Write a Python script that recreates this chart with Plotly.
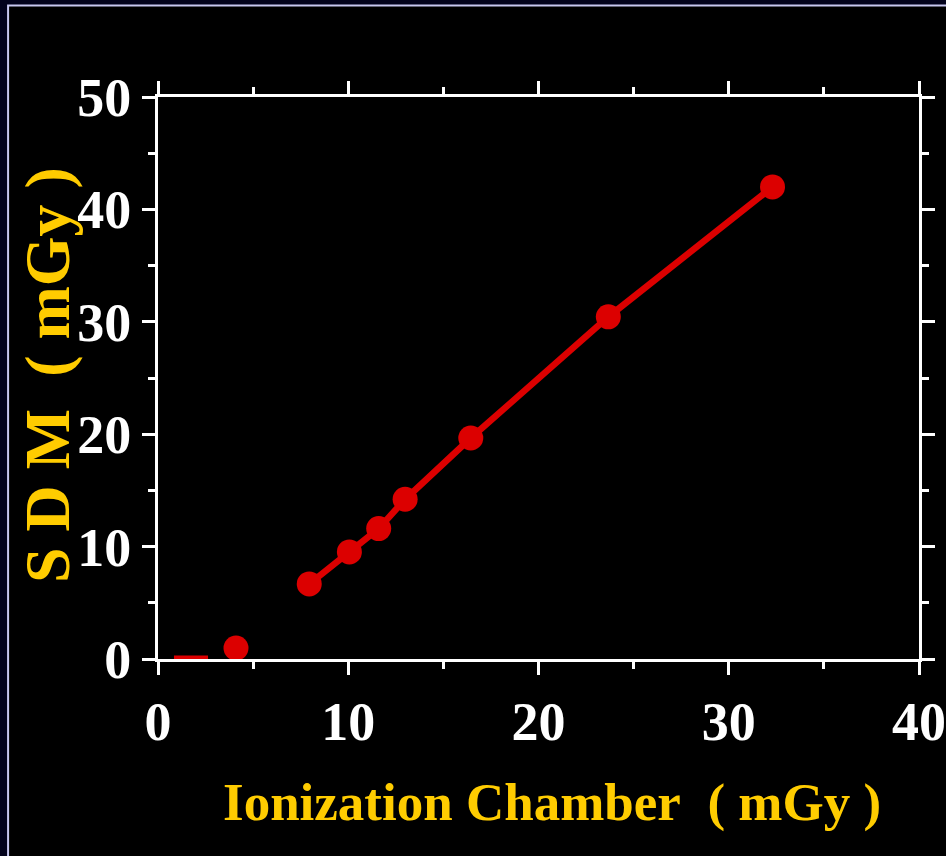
import plotly.graph_objects as go

# Dosimeter comparison: SDM reading vs ionization chamber reading (mGy)
chamber_mgy = [7.95, 10.06, 11.60, 12.99, 16.44, 23.67, 32.30]
sdm_mgy = [6.68, 9.53, 11.60, 14.21, 19.66, 30.44, 42.00]

# low-dose reading shown on its own
low_chamber = [4.10]
low_sdm = [0.97]

# short red segment along the baseline near the origin
base_x = [0.84, 2.63]
base_y = [0.10, 0.10]

x_ticks = [0, 10, 20, 30, 40]
y_ticks = [0, 10, 20, 30, 40, 50]

RED = "#dc0000"
GOLD = "#ffcc00"
SERIF = "Liberation Serif"

fig = go.Figure()

fig.add_trace(go.Scatter(
    x=base_x, y=base_y, mode="lines",
    line=dict(color=RED, width=5), cliponaxis=False, showlegend=False,
))
fig.add_trace(go.Scatter(
    x=chamber_mgy, y=sdm_mgy, mode="lines+markers",
    line=dict(color=RED, width=6.5),
    marker=dict(color=RED, size=25),
    showlegend=False,
))
fig.add_trace(go.Scatter(
    x=low_chamber, y=low_sdm, mode="markers",
    marker=dict(color=RED, size=25), cliponaxis=False,
    showlegend=False,
))

axis_common = dict(
    showline=True, linecolor="white", linewidth=3, automargin=False,
    mirror="ticks", ticks="outside", ticklen=13, tickwidth=2.5,
    tickcolor="white", showgrid=False, zeroline=False,
    tickfont=dict(family=SERIF, size=54, color="white", weight="bold"),
    minor=dict(ticks="outside", ticklen=7, tickwidth=2.5, tickcolor="white"),
)

fig.update_xaxes(range=[0, 40], tickvals=x_ticks, ticktext=[str(v) for v in x_ticks],
                 ticklabelstandoff=0, **axis_common)
fig.update_xaxes(minor_dtick=5)
fig.update_yaxes(range=[0, 50], tickvals=y_ticks, ticktext=[str(v) for v in y_ticks],
                 ticklabelstandoff=0, **axis_common)
fig.update_yaxes(minor_dtick=5)

# slide frame: dark surround with a thin lavender edge
fig.add_shape(type="rect", xref="paper", yref="paper",
              x0=-0.197, x1=1.06, y0=-0.40, y1=1.163,
              fillcolor="black", line=dict(color="#c8c8f0", width=2),
              layer="below")

fig.add_annotation(text="Ionization Chamber\u00a0 ( mGy )",
                   xref="paper", yref="paper", x=0.518, y=-0.255,
                   xanchor="center", yanchor="middle", showarrow=False,
                   font=dict(family=SERIF, size=53, color=GOLD, weight="bold"))
fig.add_annotation(text="S D M\u00a0 ( mGy )",
                   xref="paper", yref="paper", x=-0.146, y=0.505,
                   xanchor="center", yanchor="middle", showarrow=False,
                   textangle=-90,
                   font=dict(family=SERIF, size=64, color=GOLD, weight="bold"))

fig.update_layout(
    width=946, height=856, autosize=False,
    margin=dict(l=158, r=27, t=97, b=197, pad=0),
    paper_bgcolor="#03031c", plot_bgcolor="black",
)

fig.write_html("out.html")
